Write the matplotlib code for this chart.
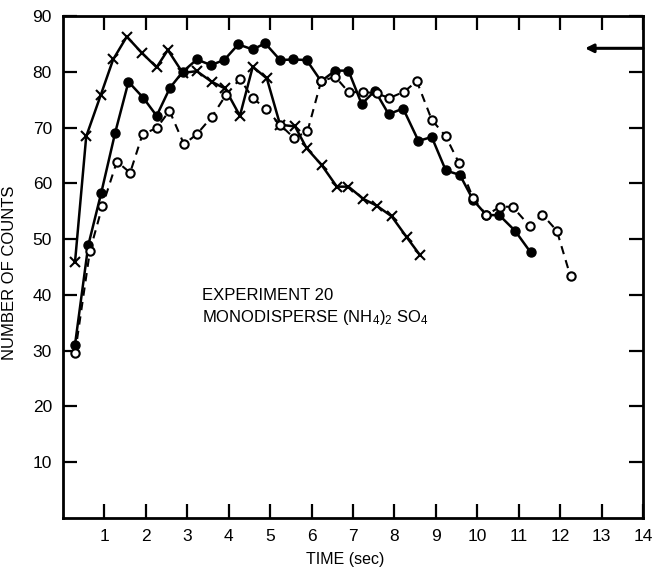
import matplotlib
matplotlib.use('Agg')
import matplotlib.pyplot as plt
import numpy as np

# crosses (solid line)
t_cross = [0.29, 0.56, 0.91, 1.21, 1.54, 1.90, 2.26, 2.53, 2.89, 3.23, 3.59, 3.91, 4.27,
           4.58, 4.92, 5.24, 5.60, 5.88, 6.24, 6.61, 6.89, 7.25, 7.57, 7.93, 8.30, 8.62]
n_cross = [45.9, 68.4, 75.8, 82.2, 86.3, 83.4, 80.8, 83.9, 79.8, 80.1, 78.2, 77.0, 72.1,
           80.9, 78.8, 70.5, 70.2, 66.3, 63.3, 59.4, 59.4, 57.2, 56.0, 54.1, 50.3, 47.1]

# filled circles (solid line)
t_filled = [0.29, 0.61, 0.92, 1.26, 1.58, 1.94, 2.26, 2.58, 2.89, 3.23, 3.57, 3.89, 4.23,
            4.58, 4.88, 5.24, 5.56, 5.88, 6.23, 6.57, 6.89, 7.21, 7.53, 7.86, 8.21, 8.58,
            8.90, 9.24, 9.58, 9.90, 10.22, 10.53, 10.91, 11.29]
n_filled = [31.1, 48.9, 58.2, 69.1, 78.2, 75.3, 72.1, 77.1, 80.0, 82.2, 81.2, 82.1, 84.9,
            84.0, 85.1, 82.1, 82.2, 82.1, 78.3, 80.2, 80.2, 74.2, 76.6, 72.4, 73.4, 67.6,
            68.3, 62.3, 61.5, 57.0, 54.3, 54.3, 51.5, 47.6]

# open circles (dashed line)
t_open = [0.29, 0.65, 0.95, 1.30, 1.62, 1.92, 2.26, 2.57, 2.92, 3.23, 3.59, 3.93, 4.27,
          4.58, 4.90, 5.24, 5.58, 5.90, 6.23, 6.57, 6.90, 7.25, 7.57, 7.88, 8.23, 8.54,
          8.90, 9.24, 9.56, 9.90, 10.22, 10.55, 10.85, 11.27, 11.57, 11.92, 12.25]
n_open = [29.5, 47.9, 55.9, 63.9, 61.9, 68.8, 69.9, 73.0, 67.0, 68.8, 71.9, 75.8, 78.7,
          75.3, 73.3, 70.5, 68.1, 69.3, 78.3, 79.1, 76.3, 76.4, 76.1, 75.3, 76.4, 78.3,
          71.4, 68.4, 63.6, 57.3, 54.3, 55.8, 55.8, 52.3, 54.4, 51.5, 43.3]

arrow_level = 84.2
xticks = list(range(1, 15))
yticks = list(range(10, 100, 10))

plt.rcParams['font.family'] = ['Liberation Sans', 'DejaVu Sans']
plt.rcParams['mathtext.fontset'] = 'custom'
plt.rcParams['mathtext.rm'] = 'Liberation Sans'
plt.rcParams['mathtext.it'] = 'Liberation Sans:italic'

fig = plt.figure(figsize=(6.53, 5.70), dpi=100)
ax = fig.add_axes([0.0965, 0.0912, 0.8882, 0.8808])

ax.plot(t_cross, n_cross, color='k', lw=1.8, marker='x', ms=6.5, mew=1.5)
ax.plot(t_filled, n_filled, color='k', lw=1.8, marker='o', ms=6.5)
ax.plot(t_open, n_open, color='k', lw=1.5, ls=(0, (4, 3)), marker='o', ms=6,
        mfc='white', mew=1.5)

# arrow on right edge
ax.annotate('', xy=(12.6, arrow_level), xytext=(14, arrow_level),
            arrowprops=dict(arrowstyle='-|>', lw=2.2, color='k', mutation_scale=12,
                            shrinkA=0, shrinkB=0), annotation_clip=False)

ax.text(3.36, 39.8, 'EXPERIMENT 20', fontsize=12, va='center', ha='left')
ax.text(3.36, 35.9, 'MONODISPERSE (NH$_4$)$_2$ SO$_4$', fontsize=12, va='center', ha='left')

ax.set_xlim(0, 14)
ax.set_ylim(0, 90)
ax.set_xticks(xticks)
ax.set_yticks(yticks)
ax.tick_params(direction='in', length=10, width=1.6, labelsize=12.5, pad=8,
               top=True, right=True)
for s in ax.spines.values():
    s.set_linewidth(2)

ax.set_ylabel('NUMBER OF COUNTS', fontsize=12)
ax.yaxis.set_label_coords(-0.079, 0.488)
ax.set_xlabel('TIME (sec)', fontsize=11.5)
ax.xaxis.set_label_coords(0.486, -0.068)

plt.savefig('out.png', dpi=100)
